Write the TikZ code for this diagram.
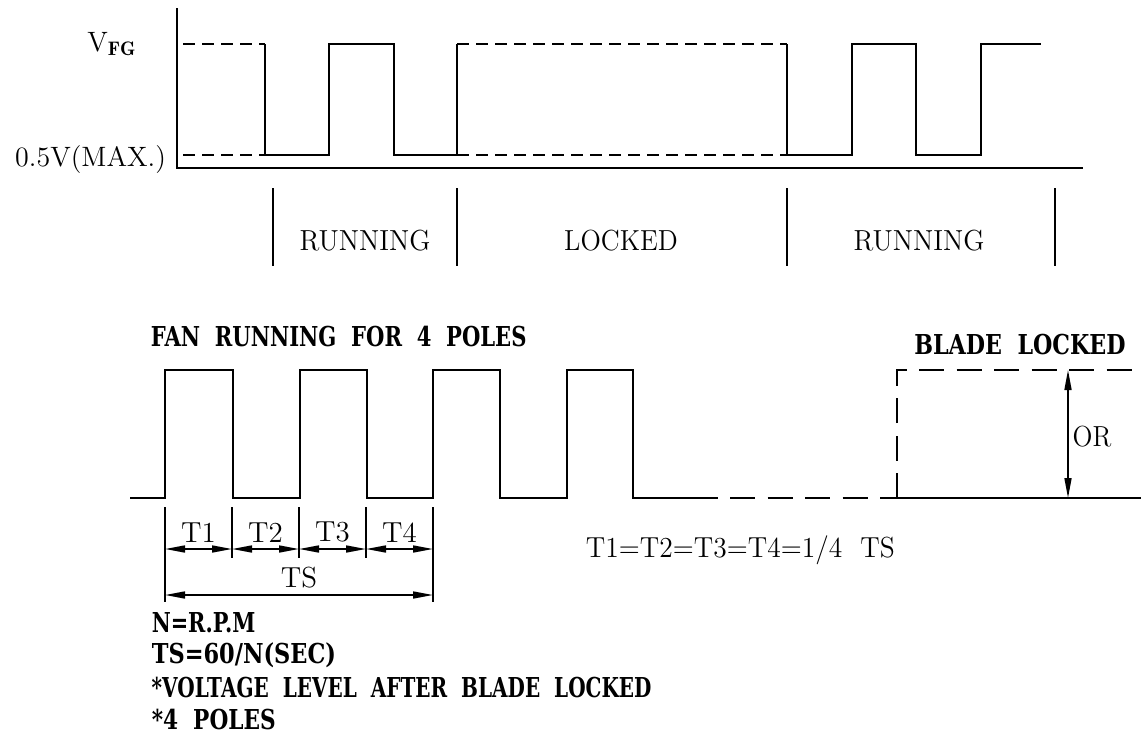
\documentclass[tikz,border=0pt]{standalone}
\usepackage{fontspec}
\newfontfamily\notefont{DejaVu Serif}
\usepackage{tikz}
\usetikzlibrary{arrows.meta,positioning}
\begin{document}
\begin{tikzpicture}[x=0.5pt,y=-0.5pt,line width=1pt,
  txt/.style={font=\fontsize{14.5}{17}\selectfont,inner sep=0pt},
  btxt/.style={font=\notefont\bfseries\fontsize{13.7}{16}\selectfont,inner sep=0pt},
  shortdash/.style={dash pattern=on 6pt off 3.5pt},
  longdash/.style={dash pattern=on 12.5pt off 6.25pt},
  dim/.style={{Triangle[length=10pt,width=3.5pt]}-{Triangle[length=10pt,width=3.5pt]},line width=0.8pt}]
\useasboundingbox (0,0) rectangle (1141,744);
% upper signal
\draw (177,8) -- (177,168) -- (1083,168);
\draw[shortdash] (183,44) -- (265,44);
\draw[shortdash] (183,155) -- (265,155);
\draw (265,44) -- (265,155) -- (329,155) -- (329,44) -- (394,44) -- (394,155) -- (457,155) -- (457,44);
\draw[shortdash] (457,44) -- (787,44);
\draw[shortdash] (457,155) -- (787,155);
\draw (787,44) -- (787,155) -- (852,155) -- (852,44) -- (916,44) -- (916,155) -- (981,155) -- (981,44) -- (1041,44);
\node[txt,font=\fontsize{14}{16}\selectfont] (vfg) at (112,44) {V$_{\mathbf{FG}}$};
\node[txt,font=\fontsize{14}{17}\selectfont,anchor=base east] (vmin) at (167,166) {0.5V(MAX.)};
\foreach \x in {273,457,787,1055}
  \draw (\x,188) -- (\x,266);
\node[txt,xscale=0.95] (run1) at (365,241) {RUNNING};
\node[txt,xscale=0.92] (lock) at (621,241) {LOCKED};
\node[txt,xscale=0.95] (run2) at (919,241) {RUNNING};
% lower signal
\node[btxt,anchor=west,xscale=0.77] (fan) at (150,337) {FAN\ \ RUNNING\ \ FOR\ \ 4\ \ POLES};
\draw (130,498) -- (165,498) -- (165,370) -- (233,370) -- (233,498) -- (300,498) -- (300,370) -- (367,370) -- (367,498) -- (433,498) -- (433,370) -- (500,370) -- (500,498) -- (567,498) -- (567,370) -- (633,370) -- (633,498) -- (718,498);
\draw[longdash] (730,498) -- (897,498);
\draw[longdash] (897,498) -- (897,370) -- (1141,370);
\draw (897,498) -- (1141,498);
\node[btxt,xscale=0.81] (blade) at (1020,345) {BLADE\ \ LOCKED};
\coordinate (hi) at (1068,370);
\coordinate (lo) at (1068,498);
\draw[dim] (hi) -- (lo);
\node[txt,xscale=0.9] (or) at (1092,437) {OR};
% timing
\foreach \i/\x in {0/165,1/232,2/299,3/366,4/433}
  \coordinate (t\i) at (\x,549);
\coordinate (s0) at (165,595);
\coordinate (s1) at (433,595);
\draw (165,507) -- (165,602);
\draw (433,507) -- (433,602);
\foreach \x in {232,299,366}
  \draw (\x,507) -- (\x,558);
\draw[dim] (t0) -- (t1) node[txt,midway,above=3pt] (T1) {T1};
\draw[dim] (t1) -- (t2) node[txt,midway,above=3pt] (T2) {T2};
\draw[dim] (t2) -- (t3) node[txt,midway,above=3pt] (T3) {T3};
\draw[dim] (t3) -- (t4) node[txt,midway,above=3pt] (T4) {T4};
\draw[dim] (s0) -- (s1) node[txt,midway,above=3pt] (TS) {TS};
\node[txt,anchor=west,xscale=0.95] (eq) at (585,550) {T1=T2=T3=T4=1/4\ \ TS};
% notes
\node[btxt,anchor=west,xscale=0.76] (n1) at (151,623) {N=R.P.M};
\node[btxt,anchor=west,xscale=0.82] (n2) at (151,655) {TS=60/N(SEC)};
\node[btxt,anchor=west,xscale=0.73] (n3) at (151,688) {*VOLTAGE\ \ LEVEL\ \ AFTER\ \ BLADE\ \ LOCKED};
\node[btxt,anchor=west,xscale=0.79] (n4) at (151,720) {*4\ \ POLES};
\end{tikzpicture}
\end{document}
